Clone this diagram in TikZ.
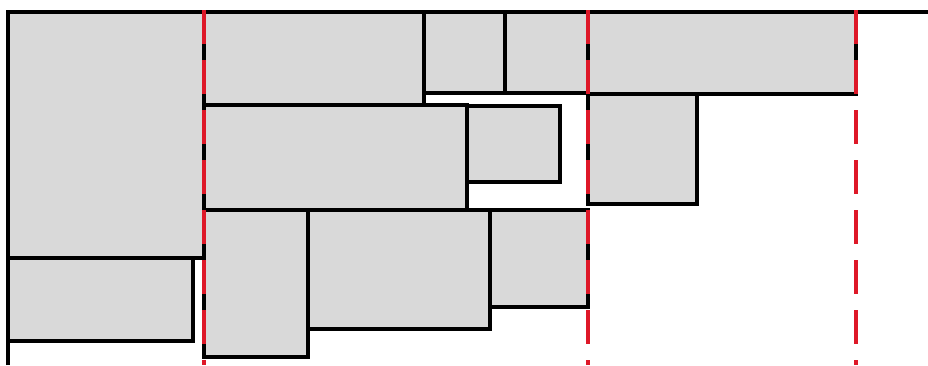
\documentclass[tikz,border=0pt]{standalone}
\usepackage{xcolor}
\usepackage{tikz}
\definecolor{itemgray}{RGB}{217,217,217}
\definecolor{binred}{RGB}{222,24,40}

\begin{document}
\begin{tikzpicture}[x=0.03cm, y=-0.03cm,
        item/.style={draw=black, fill=itemgray, line width=1.05mm},
        wall/.style={draw=black, line width=1.05mm},
        binline/.style={draw=binred, line width=1.05mm, dash pattern=on 1.02cm off 0.48cm}]
        \useasboundingbox (0,0) rectangle (928,365);

        % bin 1
        \draw[item] (8,12) rectangle (204,258);
        \draw[item] (8,258) rectangle (193,341);

        % bin 2
        \draw[item] (204,12) rectangle (424,105);
        \draw[item] (424,12) rectangle (505,93);
        \draw[item] (505,12) rectangle (588,93);
        \draw[item] (204,105) rectangle (467,210);
        \draw[item] (467,106) rectangle (560,182);
        \draw[item] (204,210) rectangle (308,357);
        \draw[item] (308,210) rectangle (490,329);
        \draw[item] (490,210) rectangle (588,307);

        % bin 3
        \draw[item] (588,12) rectangle (856,94);
        \draw[item] (588,94) rectangle (697,204);

        % strip
        \draw[wall] (8,365) -- (8,12) -- (928,12);

        % bin borders
        \foreach \bx in {204,588,856}
            \draw[binline] (\bx,10) -- (\bx,365);
    \end{tikzpicture}
\end{document}
